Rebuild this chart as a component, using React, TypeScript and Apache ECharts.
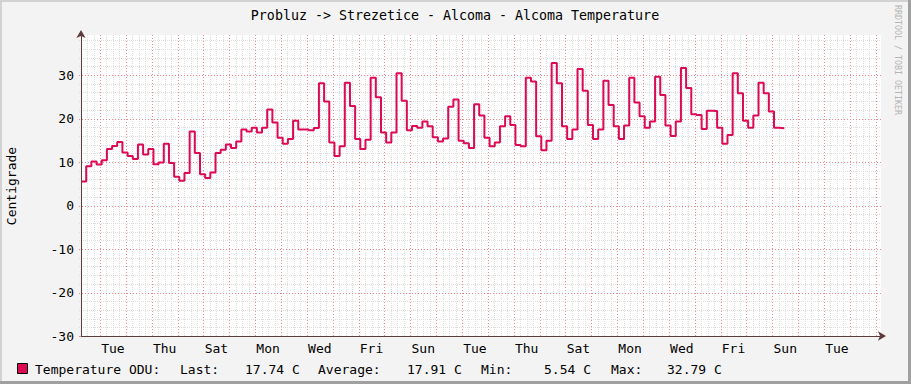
import React, { useEffect, useRef } from "react";
import * as echarts from "echarts";

const chartTitle = "Probluz -> Strezetice - Alcoma - Alcoma Temperature";
const yAxisTitle = "Centigrade";
const watermark = "RRDTOOL / TOBI OETIKER";

// x axis: hours relative to the first Tuesday 00:00
const xStartHour = -17.64;
const xEndHour = 724.9;
const dayLabels = ["Tue", "Thu", "Sat", "Mon", "Wed", "Fri", "Sun", "Tue", "Thu", "Sat", "Mon", "Wed", "Fri", "Sun", "Tue"];
const dayLabelHours = [12, 60, 108, 156, 204, 252, 300, 348, 396, 444, 492, 540, 588, 636, 684];
const dayLineHours = [0, 24, 48, 72, 96, 120, 144, 168, 192, 216, 240, 264, 288, 312, 336, 360, 384, 408, 432, 456, 480, 504, 528, 552, 576, 600, 624, 648, 672, 696, 720];
const sixHourOffsets = [6, 12, 18];

// y axis
const yMin = -30;
const yMax = 39.2;
const yMajorTicks = [-30, -20, -10, 0, 10, 20, 30];
const yMinorTicks = [-28, -26, -24, -22, -18, -16, -14, -12, -8, -6, -4, -2, 2, 4, 6, 8, 12, 14, 16, 18, 22, 24, 26, 28, 32, 34, 36, 38];

// samples: one every 4.8 h starting at sampleStartHour
const sampleStartHour = -17.6;
const sampleStepHours = 4.8;
const temperature = [
  5.54, 9.0, 10.1, 9.4, 10.4, 13.0, 13.7, 14.6, 12.2, 11.4,
  10.7, 14.0, 11.7, 13.0, 9.5, 9.9, 14.2, 9.8, 6.6, 5.7,
  7.5, 17.0, 12.1, 7.2, 6.3, 7.6, 12.1, 12.8, 14.0, 13.2,
  14.7, 17.5, 17.0, 17.9, 16.8, 17.9, 22.1, 19.1, 15.6, 14.2,
  15.3, 19.5, 17.5, 17.5, 17.3, 17.8, 28.1, 23.9, 14.5, 11.4,
  13.6, 28.2, 22.9, 15.3, 13.0, 15.1, 29.4, 24.9, 16.8, 14.5,
  16.8, 30.4, 24.1, 17.3, 18.3, 17.9, 19.3, 18.2, 15.7, 14.7,
  15.4, 22.7, 24.4, 14.9, 14.3, 13.2, 23.3, 20.7, 15.6, 13.6,
  14.5, 18.2, 20.5, 18.5, 13.9, 13.6, 29.4, 28.5, 15.9, 12.7,
  14.9, 32.79, 28.1, 18.2, 15.3, 17.5, 31.4, 26.4, 18.5, 15.3,
  17.5, 28.7, 23.1, 18.2, 15.3, 18.4, 29.4, 23.7, 20.5, 17.9,
  19.3, 29.6, 25.4, 18.4, 16.0, 19.3, 31.6, 27.0, 21.0, 20.8,
  17.6, 21.8, 21.7, 17.9, 14.2, 16.2, 30.4, 25.8, 19.5, 17.9,
  20.7, 28.2, 25.8, 21.6, 17.9, 17.74,
];

const legendLabels = ["Temperature ODU:", "Last:", "Average:", "Min:", "Max:"];
const legendValues = ["17.74 C", "17.91 C", "5.54 C", "32.79 C"];

const LINE_COLOR = "#dc0a55";
const MONO = "DejaVu Sans Mono";
const MAJOR_COLOR = "#f08a8a";
const MINOR_COLOR = "#dddddd";

export default function App() {
  const ref = useRef<HTMLDivElement>(null);
  useEffect(() => {
    if (!ref.current) return;
    const chart = echarts.init(ref.current, undefined, { renderer: "svg" });

    const pts: number[][] = temperature.map((v, i) => [sampleStartHour + i * sampleStepHours, v]);
    pts.push([sampleStartHour + temperature.length * sampleStepHours, temperature[temperature.length - 1]]);

    const axisColor = "#5e3b3b";
    const textStyle = { fontFamily: MONO, fontSize: 13, fill: "#000" };
    const legendX = [35, 180, 318, 481, 611];
    const valueX = [245, 407, 544, 667];

    const graphics: any[] = [
      { type: "rect", shape: { x: 0, y: 0, width: 911, height: 2 }, style: { fill: "#d2d2d2" }, silent: true },
      { type: "rect", shape: { x: 0, y: 0, width: 2, height: 384 }, style: { fill: "#d2d2d2" }, silent: true },
      { type: "rect", shape: { x: 908, y: 0, width: 3, height: 384 }, style: { fill: "#a0a0a0" }, silent: true },
      { type: "rect", shape: { x: 0, y: 381, width: 911, height: 3 }, style: { fill: "#a0a0a0" }, silent: true },
      { type: "text", x: 455, y: 15, style: { text: chartTitle, fontFamily: MONO, fontSize: 13.3, fill: "#000", align: "center", verticalAlign: "middle" } },
      { type: "text", x: 11, y: 186, rotation: Math.PI / 2, style: { text: yAxisTitle, fontFamily: MONO, fontSize: 13, fill: "#000", align: "center", verticalAlign: "middle" } },
      { type: "text", x: 898, y: 5, rotation: -Math.PI / 2, style: { text: watermark, fontFamily: MONO, fontSize: 8.3, fill: "#b4b4b4", align: "left", verticalAlign: "middle" } },
      { type: "rect", shape: { x: 17.5, y: 363.5, width: 10, height: 10 }, style: { fill: LINE_COLOR, stroke: "#000", lineWidth: 1 } },
    ];
    legendLabels.forEach((t, i) => graphics.push({ type: "text", x: legendX[i], y: 369, style: { ...textStyle, text: t, align: "left", verticalAlign: "middle" } }));
    legendValues.forEach((t, i) => graphics.push({ type: "text", x: valueX[i], y: 369, style: { ...textStyle, text: t, align: "left", verticalAlign: "middle" } }));

    chart.setOption({
      animation: false,
      backgroundColor: "#f3f3f3",
      grid: { left: 81, top: 35, width: 800, height: 301, show: true, backgroundColor: "#ffffff", borderWidth: 0, z: 0 },
      xAxis: [
        {
          type: "value", min: xStartHour, max: xEndHour, position: "bottom", z: 6,
          axisLine: { show: true, onZero: false, lineStyle: { color: axisColor, width: 1 }, symbol: ["none", "arrow"], symbolSize: [7, 8], symbolOffset: [0, 5] },
          axisTick: { show: false },
          axisLabel: {
            show: true, customValues: dayLabelHours, color: "#000", fontFamily: MONO, fontSize: 13, margin: 6,
            formatter: (v: number) => dayLabels[Math.round((v - 12) / 48)] ?? "",
          },
          splitLine: { show: false },
        },
      ],
      yAxis: [
        {
          type: "value", min: yMin, max: yMax, position: "left", z: 6,
          axisLine: { show: true, onZero: false, lineStyle: { color: axisColor, width: 1 }, symbol: ["none", "arrow"], symbolSize: [7, 8], symbolOffset: [0, 5] },
          axisTick: { show: false },
          axisLabel: { show: true, customValues: yMajorTicks, color: "#000", fontFamily: MONO, fontSize: 13, margin: 7 },
          splitLine: { show: false },
        },
      ],
      series: [
        {
          type: "line", xAxisIndex: 0, yAxisIndex: 0, step: "end", data: pts, showSymbol: false, symbol: "none",
          lineStyle: { color: LINE_COLOR, width: 2 }, z: 5, silent: true,
        },
      ],
      graphic: graphics,
    });

    // grid lines positioned through the chart's own scales
    const top = 35, bottom = 336, left = 81, right = 881;
    const gx = (h: number) => Math.round(chart.convertToPixel({ xAxisIndex: 0 }, h) as number) + 0.5;
    const gy = (v: number) => Math.round(chart.convertToPixel({ yAxisIndex: 0 }, v) as number) + 0.5;
    const gridEls: any[] = [];
    const minorX: number[] = [];
    [-24, ...dayLineHours].forEach((d) => sixHourOffsets.forEach((o) => { const h = d + o; if (h > xStartHour && h < xEndHour) minorX.push(h); }));
    minorX.forEach((h) => { const x = gx(h); gridEls.push({ type: "line", z: 1, silent: true, shape: { x1: x, y1: top, x2: x, y2: bottom }, style: { stroke: MINOR_COLOR, lineWidth: 1, lineDash: [1, 1] } }); });
    yMinorTicks.forEach((v) => { const y = gy(v); gridEls.push({ type: "line", z: 1, silent: true, shape: { x1: left - 2, y1: y, x2: right, y2: y }, style: { stroke: MINOR_COLOR, lineWidth: 1, lineDash: [1, 1] } }); });
    dayLineHours.forEach((h) => { const x = gx(h); gridEls.push({ type: "line", z: 2, silent: true, shape: { x1: x, y1: top, x2: x, y2: bottom + 2 }, style: { stroke: MAJOR_COLOR, lineWidth: 1, lineDash: [1, 2] } }); });
    yMajorTicks.forEach((v) => { const y = gy(v); gridEls.push({ type: "line", z: 2, silent: true, shape: { x1: left - 2, y1: y, x2: right, y2: y }, style: { stroke: MAJOR_COLOR, lineWidth: 1, lineDash: [1, 2] } }); });

    chart.setOption({ graphic: [...graphics, ...gridEls] });
    return () => chart.dispose();
  }, []);
  return <div ref={ref} style={{ position: "absolute", left: 0, top: 0, width: 911, height: 384 }} />;
}
